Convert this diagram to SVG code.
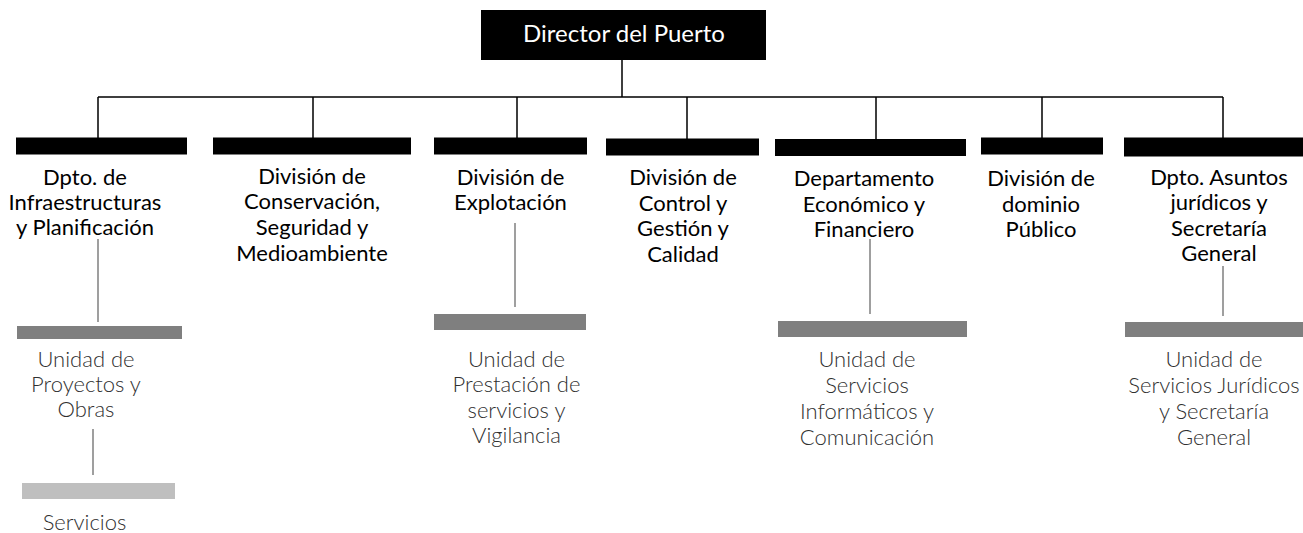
<svg xmlns="http://www.w3.org/2000/svg" width="1303" height="533" viewBox="0 0 1303 533">
<style>
.bar{fill:#000}
.g{fill:#7f7f7f}
.lg{fill:#bfbfbf}
.c{stroke:#000;stroke-width:1.5;fill:none}
.cg{stroke:#808080;stroke-width:1.5;fill:none}
.t1{font-family:Lato,"Liberation Sans",sans-serif;font-size:22px;fill:#000;text-anchor:middle}
.t0{font-family:Lato,"Liberation Sans",sans-serif;font-size:24px;fill:#fff;text-anchor:middle}
.t2{font-family:Lato,"Liberation Sans",sans-serif;font-weight:300;font-size:22px;fill:#303030;text-anchor:middle}
</style>
<rect width="1303" height="533" fill="#fff"/>
<g id="connectors">
<path class="c" d="M622 60V97M98 97H1223M98 97V138M313 97V138M517 97V138M687 97V139M876 97V139M1042 97V138M1223 97V138"/>
<path class="cg" d="M98 239V322M93 429V475M515 223V307M870 239V314M1223 266V316"/>
</g>
<g id="director">
<rect class="bar" x="481" y="10" width="285" height="50"/>
<text class="t0" x="624" y="42">Director del Puerto</text>
</g>
<g id="infraestructuras">
<rect class="bar" x="16" y="137.5" width="171" height="17"/>
<text class="t1"><tspan x="85" y="185">Dpto. de</tspan><tspan x="85" y="210">Infraestructuras</tspan><tspan x="85" y="235">y Planificación</tspan></text>
</g>
<g id="conservacion">
<rect class="bar" x="213" y="137.5" width="198" height="17"/>
<text class="t1"><tspan x="312" y="184">División de</tspan><tspan x="312" y="209">Conservación,</tspan><tspan x="312" y="235">Seguridad y</tspan><tspan x="312" y="261">Medioambiente</tspan></text>
</g>
<g id="explotacion">
<rect class="bar" x="434" y="137.5" width="153" height="17"/>
<text class="t1"><tspan x="510.5" y="185">División de</tspan><tspan x="510.5" y="210">Explotación</tspan></text>
</g>
<g id="control">
<rect class="bar" x="606" y="138.5" width="153" height="17"/>
<text class="t1"><tspan x="683" y="185">División de</tspan><tspan x="683" y="210.5">Control y</tspan><tspan x="683" y="236">Gestión y</tspan><tspan x="683" y="261.5">Calidad</tspan></text>
</g>
<g id="economico">
<rect class="bar" x="775" y="139" width="191" height="17"/>
<text class="t1"><tspan x="864" y="186">Departamento</tspan><tspan x="864" y="211.5">Económico y</tspan><tspan x="864" y="237">Financiero</tspan></text>
</g>
<g id="dominio">
<rect class="bar" x="981" y="137.5" width="122" height="17"/>
<text class="t1"><tspan x="1041" y="186">División de</tspan><tspan x="1041" y="211.5">dominio</tspan><tspan x="1041" y="236.5">Público</tspan></text>
</g>
<g id="juridicos">
<rect class="bar" x="1124" y="137.5" width="179" height="19"/>
<text class="t1"><tspan x="1219" y="185">Dpto. Asuntos</tspan><tspan x="1219" y="210">jurídicos y</tspan><tspan x="1219" y="236">Secretaría</tspan><tspan x="1219" y="261">General</tspan></text>
</g>
<g id="proyectos">
<rect class="g" x="17" y="326" width="165" height="13"/>
<text class="t2"><tspan x="86" y="367">Unidad de</tspan><tspan x="86" y="392">Proyectos y</tspan><tspan x="86" y="417">Obras</tspan></text>
</g>
<g id="servicios">
<rect class="lg" x="22" y="483" width="153" height="16"/>
<text class="t2" x="84.5" y="530">Servicios</text>
</g>
<g id="prestacion">
<rect class="g" x="434" y="314" width="152" height="16"/>
<text class="t2"><tspan x="516.5" y="367">Unidad de</tspan><tspan x="516.5" y="392">Prestación de</tspan><tspan x="516.5" y="418">servicios y</tspan><tspan x="516.5" y="443">Vigilancia</tspan></text>
</g>
<g id="informaticos">
<rect class="g" x="778" y="321" width="189" height="16"/>
<text class="t2"><tspan x="867" y="367">Unidad de</tspan><tspan x="867" y="393">Servicios</tspan><tspan x="867" y="419">Informáticos y</tspan><tspan x="867" y="445">Comunicación</tspan></text>
</g>
<g id="juridica">
<rect class="g" x="1125" y="322" width="178" height="15"/>
<text class="t2"><tspan x="1214" y="367">Unidad de</tspan><tspan x="1214" y="393">Servicios Jurídicos</tspan><tspan x="1214" y="419">y Secretaría</tspan><tspan x="1214" y="445">General</tspan></text>
</g>
</svg>
